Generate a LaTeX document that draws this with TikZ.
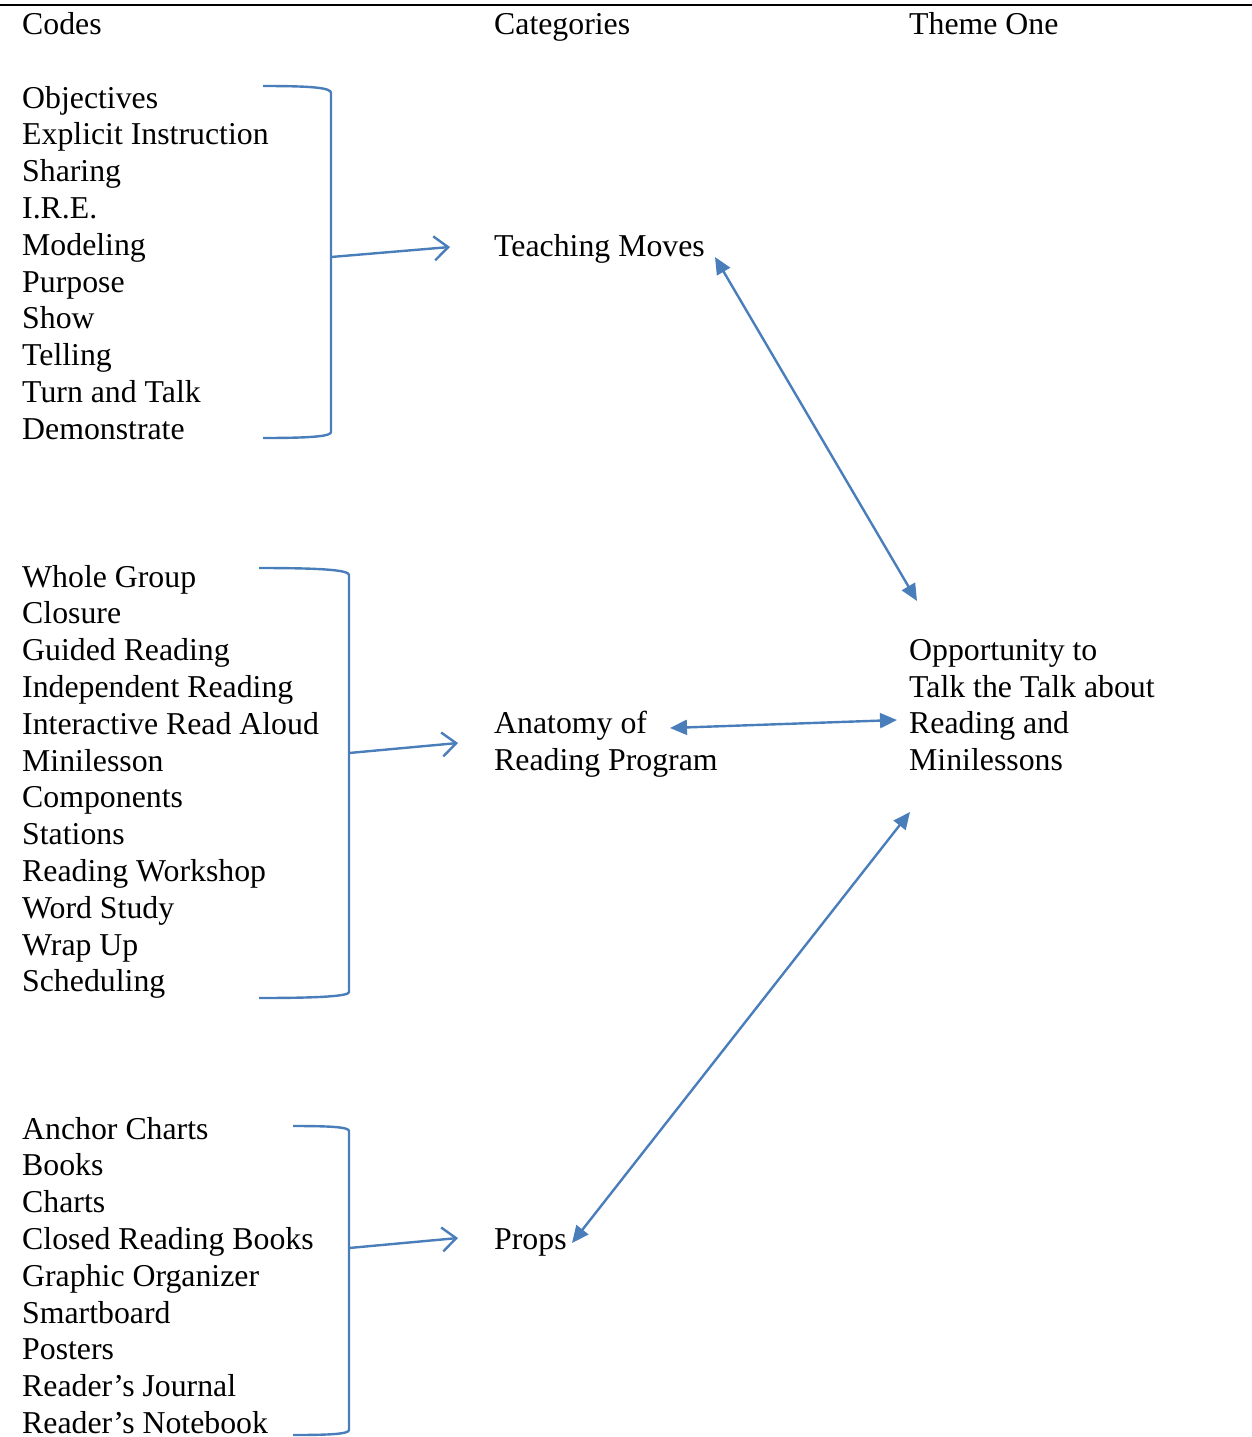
\documentclass[tikz,border=0pt]{standalone}
\usepackage{fontspec}
\setmainfont{Liberation Serif}
\usetikzlibrary{arrows.meta}
\definecolor{linkblue}{HTML}{4A7EBB}
\begin{document}
\begin{tikzpicture}[x=1pt,y=-1pt,
  txt/.style={inner sep=0pt, anchor=base west, font=\fontsize{31.8}{36.8}\selectfont},
  brk/.style={draw=linkblue, line width=2.4pt},
  feed/.style={draw=linkblue, line width=2.4pt, -{Straight Barb[length=14pt,width=24pt,line width=2.4pt]}},
  link/.style={draw=linkblue, line width=2.4pt, {Triangle[length=17pt,width=15pt]}-{Triangle[length=17pt,width=15pt]}}]
\useasboundingbox (0,0) rectangle (1252,1437);

% top rule and column headings
\draw[line width=2.6pt] (0,5) -- (1252,5);
\node[txt] (hcodes) at (22,35) {Codes};
\node[txt] (hcat) at (494,35) {Categories};
\node[txt] (htheme) at (909,35) {Theme One};

% code lists
\foreach \t [count=\i] in {Objectives, Explicit Instruction, Sharing, I.R.E., Modeling, Purpose, Show, Telling, Turn and Talk, Demonstrate}
  \node[txt] (ca\i) at (22,{108+36.8*(\i-1)}) {\t};
\foreach \t [count=\i] in {Whole Group, Closure, Guided Reading, Independent Reading, Interactive Read Aloud, Minilesson, Components, Stations, Reading Workshop, Word Study, Wrap Up, Scheduling}
  \node[txt] (cb\i) at (22,{587+36.8*(\i-1)}) {\t};
\foreach \t [count=\i] in {Anchor Charts, Books, Charts, Closed Reading Books, Graphic Organizer, Smartboard, Posters, Reader’s Journal, Reader’s Notebook}
  \node[txt] (cc\i) at (22,{1139+36.8*(\i-1)}) {\t};

% categories
\node[txt] (tm) at (494,256) {Teaching Moves};
\node[txt] (an1) at (494,733) {Anatomy of};
\node[txt] (an2) at (494,770) {Reading Program};
\node[txt] (pr) at (494,1249) {Props};

% theme
\node[txt] (th1) at (909,660) {Opportunity to};
\node[txt] (th2) at (909,697) {Talk the Talk about};
\node[txt] (th3) at (909,733) {Reading and};
\node[txt] (th4) at (909,770) {Minilessons};

% brackets grouping the codes
\draw[brk] (263,86) .. controls (315,86) and (331,88) .. (331,93) -- (331,432) .. controls (331,436) and (315,438) .. (263,438);
\draw[brk] (259,568) .. controls (322,568) and (349,570) .. (349,575) -- (349,992) .. controls (349,996) and (322,998) .. (259,998);
\draw[brk] (293,1126) .. controls (330,1126) and (349,1127) .. (349,1131) -- (349,1430) .. controls (349,1434) and (330,1435) .. (293,1435);

% bracket tips and arrow ends
\coordinate (k1) at (331,257);
\coordinate (k1e) at (450,247);
\coordinate (k2) at (349,753);
\coordinate (k2e) at (458,743);
\coordinate (k3) at (349,1248);
\coordinate (k3e) at (458,1238);
\draw[feed] (k1) -- (k1e);
\draw[feed] (k2) -- (k2e);
\draw[feed] (k3) -- (k3e);

% links between categories and theme
\coordinate (tmR) at (715,257);
\coordinate (opT) at (917,601);
\coordinate (anR) at (670,728);
\coordinate (opL) at (897,720);
\coordinate (prR) at (572,1243);
\coordinate (opB) at (910,812);
\draw[link] (tmR) -- (opT);
\draw[link] (anR) -- (opL);
\draw[link] (prR) -- (opB);
\end{tikzpicture}
\end{document}
